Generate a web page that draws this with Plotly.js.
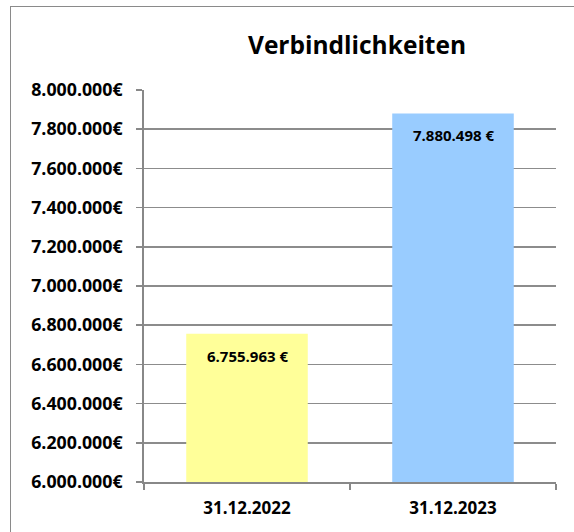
<!DOCTYPE html>
<html>
<head>
<meta charset="utf-8">
<script src="https://cdn.plot.ly/plotly-3.0.1.min.js"></script>
<style>
  html, body { margin: 0; padding: 0; background: #fff; }
  #wrap { position: relative; width: 574px; height: 532px; overflow: hidden; }
  #chart { position: absolute; left: 0; top: 0; width: 574px; height: 532px; }
  #frame { position: absolute; left: 10px; top: 6px; width: 700px; height: 700px;
           border-left: 1.5px solid #8a8a8a; border-top: 1.5px solid #8a8a8a; pointer-events: none; }
</style>
</head>
<body>
<div id="wrap">
  <div id="chart"></div>
  <div id="frame"></div>
</div>
<script>
const title = "Verbindlichkeiten";
const categories = ["31.12.2022", "31.12.2023"];
const values = [6755963, 7880498];
const barColors = ["#FFFF99", "#99CCFF"];
const yTicks = [6000000, 6200000, 6400000, 6600000, 6800000, 7000000, 7200000, 7400000, 7600000, 7800000, 8000000];
const yTickText = yTicks.map(v => v.toLocaleString("de-DE") + "€");

const FONT = "'Open Sans', 'Liberation Sans', sans-serif";

const trace = {
  type: "bar",
  x: categories,
  y: values,
  base: 0,
  width: 0.59,
  marker: { color: barColors, line: { width: 0 } },
  hoverinfo: "skip",
  textposition: "none"
};

const annotations = categories.map((c, i) => ({
  x: c, y: values[i], xref: "x", yref: "y",
  text: values[i].toLocaleString("de-DE") + " €",
  showarrow: false, yanchor: "middle", xanchor: "center", yshift: -22,
  font: { family: FONT, size: 15, color: "#000", weight: 700 }
}));

const layout = {
  width: 574, height: 532,
  margin: { l: 144, r: 18, t: 90, b: 50 },
  paper_bgcolor: "#fff", plot_bgcolor: "#fff",
  separators: ",.",
  showlegend: false,
  title: {
    text: title,
    font: { family: FONT, size: 24.5, color: "#000", weight: 700 },
    x: 0.622, xanchor: "center", y: 0.915, yanchor: "middle"
  },
  xaxis: {
    type: "category",
    tickson: "boundaries",
    ticks: "outside", ticklen: 6, tickwidth: 1.5, tickcolor: "#888",
    showline: true, linecolor: "#888", linewidth: 1.8,
    showgrid: false,
    tickfont: { family: FONT, size: 17, color: "#000", weight: 700 },
    ticklabelstandoff: 10,
    fixedrange: true
  },
  yaxis: {
    range: [6000000, 8000000],
    tickvals: yTicks,
    ticktext: yTickText,
    ticks: "outside", ticklen: 6, tickwidth: 1.5, tickcolor: "#888",
    showline: true, linecolor: "#888", linewidth: 1.8,
    showgrid: true, gridcolor: "#8c8c8c", gridwidth: 1.5,
    zeroline: false,
    tickfont: { family: FONT, size: 17.8, color: "#000", weight: 700 },
    ticklabelstandoff: 10,
    fixedrange: true
  },
  annotations: annotations,
  bargap: 0.41
};

Plotly.newPlot("chart", [trace], layout, { staticPlot: true, displayModeBar: false });
</script>
</body>
</html>
